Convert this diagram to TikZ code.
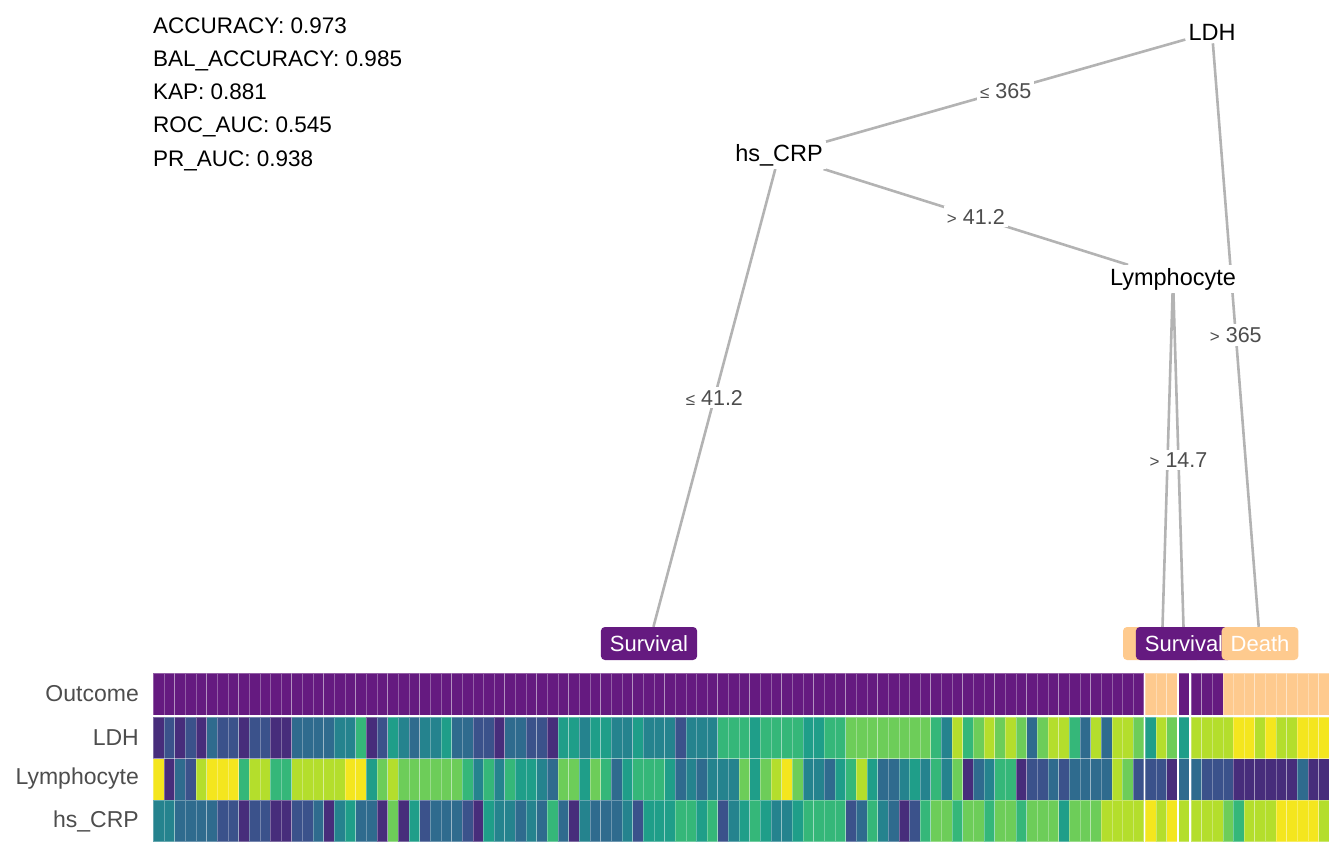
\documentclass[tikz,border=0pt]{standalone}
\usepackage{fontspec}
\setmainfont{Liberation Sans}
\usetikzlibrary{backgrounds}

\definecolor{surv}{RGB}{101,26,128}
\definecolor{death}{RGB}{254,202,142}
\definecolor{edgegray}{RGB}{179,179,179}
\definecolor{labgray}{RGB}{77,77,77}
% viridis steps
\definecolor{vir0}{HTML}{440154}
\definecolor{vir1}{HTML}{472D7B}
\definecolor{vir2}{HTML}{3B528B}
\definecolor{vir3}{HTML}{2F6B8E}
\definecolor{vir4}{HTML}{25838E}
\definecolor{vir5}{HTML}{1F9E89}
\definecolor{vir6}{HTML}{35B779}
\definecolor{vir7}{HTML}{6DCD59}
\definecolor{vir8}{HTML}{B4DE2C}
\definecolor{vir9}{HTML}{F4E61E}

\newcommand{\lesym}{{\fontsize{17}{17}\selectfont ≤}}
\newcommand{\gtsym}{{\fontsize{17}{17}\selectfont >}}

\begin{document}
\begin{tikzpicture}[x=1pt, y=-1pt,
		split/.style={fill=white, inner sep=3pt, font=\fontsize{23.5}{24}\selectfont},
		branch/.style={draw=edgegray, line width=2.6pt},
		cond/.style={fill=white, inner sep=3pt, text=labgray, font=\fontsize{21.5}{22}\selectfont},
		leaf/.style={rounded corners=4pt, text=white, minimum height=33pt, inner xsep=9pt, inner ysep=0pt, font=\fontsize{22}{22}\selectfont},
		metric/.style={anchor=base west, inner sep=0pt, font=\fontsize{22.5}{23}\selectfont},
		rowlab/.style={anchor=east, inner sep=0pt, text=labgray, font=\fontsize{23}{23}\selectfont},
		cell/.style={draw=white, draw opacity=0.3, line width=0.6pt}
		]
		\useasboundingbox (0,0) rectangle (1344,864);
		
		% model scores
		\node[metric] (acc) at (153,33.3) {ACCURACY: 0.973};
		\node[metric] (bal) at (153,66.5) {BAL\_ACCURACY: 0.985};
		\node[metric] (kap) at (153,99.7) {KAP: 0.881};
		\node[metric] (roc) at (153,132.9) {ROC\_AUC: 0.545};
		\node[metric] (pr) at (153,166.1) {PR\_AUC: 0.938};
		
		% tree
		\node[split] (ldh) at (1212,32) {LDH};
		\node[split] (crp) at (779,155) {hs\_CRP};
		\node[split] (lym) at (1173,279) {Lymphocyte};
		\node[leaf, fill=surv] (leafA) at (649,643.5) {Survival};
		\node[leaf, fill=death, minimum width=78pt] (leafB) at (1162,643.5) {};
		\node[leaf, fill=surv] (leafC) at (1184,643.5) {Survival};
		\node[leaf, fill=death] (leafD) at (1260,643.5) {Death};
		
		\begin{scope}[on background layer]
			\draw[branch] (ldh) -- node[cond, midway] {\lesym\ 365} (crp);
			\draw[branch] (ldh) -- node[cond, midway] {\gtsym\ 365} (leafD);
			\draw[branch] (crp) -- node[cond, midway] {\lesym\ 41.2} (leafA);
			\draw[branch] (crp) -- node[cond, midway] {\gtsym\ 41.2} (lym);
			\draw[branch] (lym) -- (leafB);
			\draw[branch] (lym) -- node[cond, midway] {\gtsym\ 14.7} (leafC);
		\end{scope}
		
		% heatmap rows
		\node[rowlab] (rowout) at (139,694) {Outcome};
		\node[rowlab] (rowldh) at (139,738) {LDH};
		\node[rowlab] (rowlym) at (139,779) {Lymphocyte};
		\node[rowlab] (rowcrp) at (139,821) {hs\_CRP};
		
		\foreach \a/\b/\col in {0/92/surv, 93/95/death, 96/99/surv, 100/109/death}
		\foreach \c in {\a,...,\b} {
			\pgfmathsetmacro\xa{153.3+\c*10.65+1.5*((\c>92)+(\c>95)+(\c>96))}
			\path[fill=\col, cell] (\xa,673.3) rectangle ++(10.65,41.7);
		}
		\foreach \v [count=\c from 0] in {1,2,1,2,1,3,2,2,1,2,2,1,1,3,3,3,3,4,4,6,1,2,5,4,3,4,4,5,
			3,3,2,2,1,3,3,2,2,1,5,5,4,5,5,4,4,5,4,4,4,2,4,4,4,6,6,6,
			5,6,6,6,6,5,5,6,6,7,7,7,7,7,7,7,7,6,4,8,6,7,8,7,8,7,3,7,8,8,
			6,3,8,3,8,8,7, 5,8,7, 5, 8,8,8,8,9,9,8,9,8,8,9,9,9} {
			\pgfmathsetmacro\xa{153.3+\c*10.65+1.5*((\c>92)+(\c>95)+(\c>96))}
			\path[fill=vir\v, cell] (\xa,717.3) rectangle ++(10.65,41.2);
		}
		\foreach \v [count=\c from 0] in {9,1,3,2,8,9,9,9,6,8,8,6,6,8,8,8,8,8,9,9,5,7,8,7,7,7,7,7,
			7,6,4,6,4,6,5,5,4,3,7,7,5,7,6,3,5,6,6,6,5,3,4,3,4,4,4,7,
			5,7,8,9,7,4,4,3,5,6,8,5,3,3,4,5,4,6,4,7,1,3,4,6,6,1,2,2,3,2,
			3,3,3,3,8,7,2, 2,2,1, 3, 3,2,2,2,1,1,1,1,1,1,3,1,1} {
			\pgfmathsetmacro\xa{153.3+\c*10.65+1.5*((\c>92)+(\c>95)+(\c>96))}
			\path[fill=vir\v, cell] (\xa,758.5) rectangle ++(10.65,41.5);
		}
		\foreach \v [count=\c from 0] in {4,4,3,3,3,3,2,2,1,2,2,1,1,2,2,3,1,4,5,3,3,1,7,1,5,2,3,3,
			3,2,1,5,4,4,3,4,3,6,3,1,4,3,3,3,4,2,5,5,5,6,6,5,6,2,4,5,
			6,5,4,4,5,6,6,6,6,2,3,6,4,3,1,2,6,7,7,6,7,7,6,7,7,6,7,7,7,5,
			7,7,7,8,8,8,8, 9,8,9, 8, 8,8,8,7,6,8,8,8,9,9,9,9,8} {
			\pgfmathsetmacro\xa{153.3+\c*10.65+1.5*((\c>92)+(\c>95)+(\c>96))}
			\path[fill=vir\v, cell] (\xa,800) rectangle ++(10.65,41.7);
		}
	\end{tikzpicture}
\end{document}
